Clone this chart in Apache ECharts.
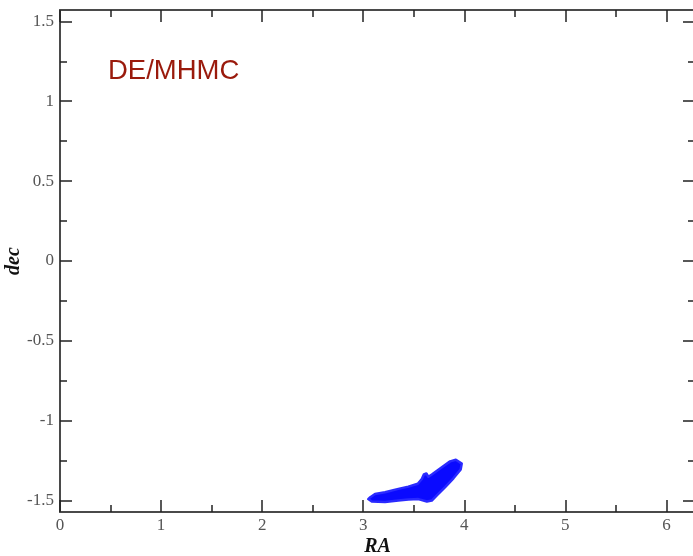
<!DOCTYPE html>
<html>
<head>
<meta charset="utf-8">
<script src="https://cdn.jsdelivr.net/npm/echarts@6/dist/echarts.min.js"></script>
<style>html,body{margin:0;padding:0;background:#fff;}#c{width:693px;height:556px;}</style>
</head>
<body>
<div id="c"></div>
<script>
// Outline of the posterior sample cloud (RA, dec)
var cloudRA  = [3.050, 3.070, 3.117, 3.216, 3.348, 3.447, 3.540, 3.580, 3.600, 3.625, 3.645, 3.679, 3.778, 3.860, 3.917, 3.975, 3.965, 3.893, 3.811, 3.729, 3.679, 3.630, 3.546, 3.447, 3.348, 3.216, 3.085];
var cloudDec = [-1.490, -1.478, -1.458, -1.447, -1.426, -1.412, -1.394, -1.364, -1.336, -1.330, -1.350, -1.336, -1.291, -1.254, -1.244, -1.268, -1.304, -1.360, -1.415, -1.467, -1.499, -1.505, -1.490, -1.493, -1.499, -1.508, -1.505];
var xMajor = [0, 1, 2, 3, 4, 5, 6];
var xMinor = [0.5, 1.5, 2.5, 3.5, 4.5, 5.5];
var yMajor = [-1.5, -1, -0.5, 0, 0.5, 1, 1.5];
var yMinor = [-1.25, -0.75, -0.25, 0.25, 0.75, 1.25];
var xRange = [0, 2 * Math.PI];
var yRange = [-Math.PI / 2, Math.PI / 2];
var titleText = 'DE/MHMC';

var cloudData = cloudRA.map(function (v, i) { return [v, cloudDec[i]]; });
var lineCol = '#4a4a4a';
var labelStyle = { color: '#555', fontFamily: 'Liberation Serif, DejaVu Serif, serif', fontSize: 17 };

function mkX(pos, ticks, len, opts) {
  return Object.assign({
    type: 'value', gridIndex: 0, position: pos, min: xRange[0], max: xRange[1],
    axisLine: { show: false, onZero: false }, splitLine: { show: false },
    axisTick: { show: true, inside: true, length: len, customValues: ticks, lineStyle: { color: '#222', width: 1.5 } },
    axisLabel: { show: false }
  }, opts || {});
}
function mkY(pos, ticks, len, opts) {
  return Object.assign({
    type: 'value', gridIndex: 0, position: pos, min: yRange[0], max: yRange[1],
    axisLine: { show: false, onZero: false }, splitLine: { show: false },
    axisTick: { show: true, inside: true, length: len, customValues: ticks, lineStyle: { color: '#222', width: 1.5 } },
    axisLabel: { show: false }
  }, opts || {});
}

var chart = echarts.init(document.getElementById('c'), null, { renderer: 'canvas' });
chart.setOption({
  animation: false,
  backgroundColor: '#fff',
  grid: { left: 60, top: 10, width: 635, height: 502, containLabel: false, outerBoundsMode: 'none' },
  xAxis: [
    mkX('bottom', xMajor, 12, {
      axisLine: { show: true, onZero: false, lineStyle: { color: lineCol, width: 2 } },
      axisLabel: { show: true, customValues: xMajor, margin: 5, formatter: function (v) { return String(v); }, color: labelStyle.color, fontFamily: labelStyle.fontFamily, fontSize: labelStyle.fontSize },
      name: 'RA', nameLocation: 'middle', nameGap: 25, nameMoveOverlap: false,
      nameTextStyle: { fontFamily: 'Liberation Serif, DejaVu Serif, serif', fontStyle: 'italic', fontWeight: 'bold', fontSize: 20, color: '#111' }
    }),
    mkX('bottom', xMinor, 7),
    mkX('top', xMajor, 12, { axisLine: { show: true, onZero: false, lineStyle: { color: lineCol, width: 2 } } }),
    mkX('top', xMinor, 7)
  ],
  yAxis: [
    mkY('left', yMajor, 12, {
      axisLine: { show: true, onZero: false, lineStyle: { color: lineCol, width: 2 } },
      axisLabel: { show: true, customValues: yMajor, margin: 6, formatter: function (v) { return String(v); }, color: labelStyle.color, fontFamily: labelStyle.fontFamily, fontSize: labelStyle.fontSize },
      name: 'dec', nameLocation: 'middle', nameGap: 36, nameRotate: 90, nameMoveOverlap: false,
      nameTextStyle: { fontFamily: 'Liberation Serif, DejaVu Serif, serif', fontStyle: 'italic', fontWeight: 'bold', fontSize: 20, color: '#111' }
    }),
    mkY('left', yMinor, 7),
    mkY('right', yMajor, 12, { axisLine: { show: true, onZero: false, lineStyle: { color: lineCol, width: 2 } } }),
    mkY('right', yMinor, 7)
  ],
  series: [{
    type: 'custom',
    xAxisIndex: 0, yAxisIndex: 0,
    data: cloudData,
    clip: false,
    renderItem: function (params, api) {
      if (params.dataIndex !== 0) return null;
      var pts = cloudData.map(function (d) { return api.coord(d); });
      return {
        type: 'polygon',
        shape: { points: pts },
        style: { fill: '#0a0aff', stroke: '#2a2aff', lineWidth: 2.5, lineJoin: 'round' }
      };
    }
  }],
  graphic: [{
    type: 'text', left: 108, top: 57,
    style: { text: titleText, fill: '#9a1a0c', font: '27.5px "Liberation Sans", Arial, sans-serif' }
  }]
});
</script>
</body>
</html>
